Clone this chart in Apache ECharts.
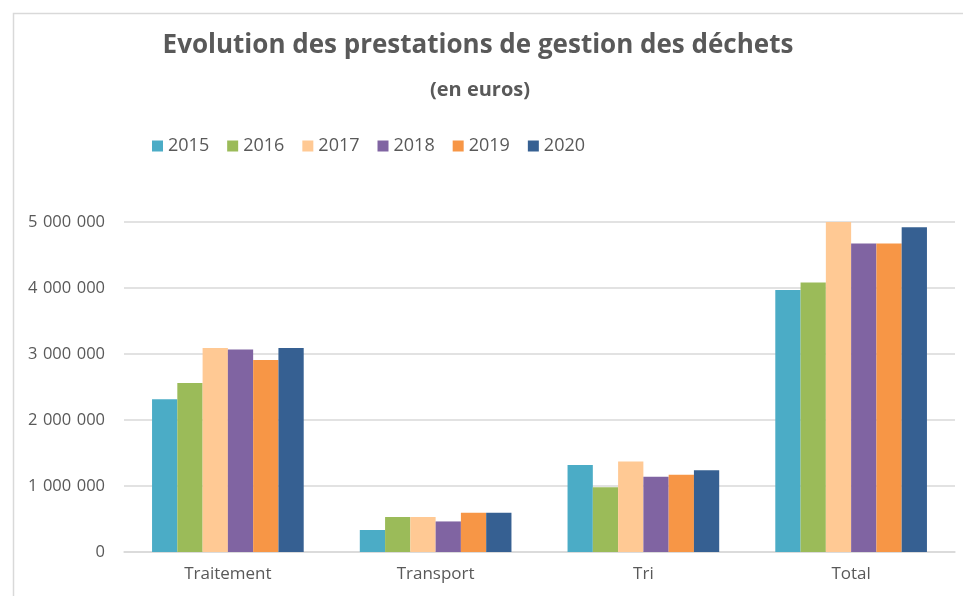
<!DOCTYPE html>
<html>
<head>
<meta charset="utf-8">
<script src="https://cdn.jsdelivr.net/npm/echarts@6/dist/echarts.min.js"></script>
<style>
  html, body { margin: 0; padding: 0; background: #fff; }
  #main { width: 963px; height: 596px; }
</style>
</head>
<body>
<div id="main"></div>
<script>
const categories = ['Traitement', 'Transport', 'Tri', 'Total'];
const years = ['2015', '2016', '2017', '2018', '2019', '2020'];
const colors = ['#4BACC6', '#9BBB59', '#FFC994', '#8064A2', '#F79646', '#366092'];

const v2015 = [2315000, 333000, 1320000, 3970000];
const v2016 = [2560000, 530000, 980000, 4085000];
const v2017 = [3090000, 530000, 1370000, 5000000];
const v2018 = [3070000, 463000, 1140000, 4675000];
const v2019 = [2910000, 595000, 1170000, 4675000];
const v2020 = [3090000, 595000, 1240000, 4920000];
const values = [v2015, v2016, v2017, v2018, v2019, v2020];

const txt = '#595959';
const font = 'Open Sans';
// thousands separated by a thin-ish space, like the original
const fmt = v => String(v).replace(/\B(?=(\d{3})+(?!\d))/g, '\u2004');

const myChart = echarts.init(document.getElementById('main'));
const option = {
  animation: false,
  backgroundColor: '#fff',
  color: colors,
  title: [
    {
      text: 'Evolution des prestations de gestion des déchets',
      left: 473, top: 28, textAlign: 'center',
      textStyle: { fontFamily: font, fontWeight: 'bold', fontSize: 26, color: txt }
    },
    {
      text: '(en euros)',
      left: 475, top: 75, textAlign: 'center',
      textStyle: { fontFamily: font, fontWeight: 'bold', fontSize: 20, color: txt }
    }
  ],
  legend: {
    left: 147, top: 132,
    itemWidth: 11, itemHeight: 11, itemGap: 18,
    icon: 'rect',
    textStyle: { fontFamily: font, fontSize: 18, color: txt },
    data: years
  },
  graphic: [{
    type: 'rect', silent: true, z: -1,
    shape: { x: 13.5, y: 13.5, width: 1000, height: 1000 },
    style: { fill: 'none', stroke: '#D9D9D9', lineWidth: 1.5 }
  }],
  grid: { left: 124, right: 8, top: 222, bottom: 44 },
  xAxis: {
    type: 'category',
    data: categories,
    axisLine: { lineStyle: { color: '#D9D9D9', width: 1.5 } },
    axisTick: { show: false },
    axisLabel: { fontFamily: font, fontSize: 17, color: txt, margin: 14 }
  },
  yAxis: {
    type: 'value',
    min: 0, max: 5000000, interval: 1000000,
    axisLine: { show: false },
    axisTick: { show: false },
    splitLine: { lineStyle: { color: '#D9D9D9', width: 1.5 } },
    axisLabel: { fontFamily: font, fontSize: 16.5, color: txt, margin: 19, formatter: fmt }
  },
  series: years.map((y, i) => ({
    name: y,
    type: 'bar',
    data: values[i],
    barGap: '0%',
    barCategoryGap: '27%',
    itemStyle: { color: colors[i] }
  }))
};
myChart.setOption(option);
window.onresize = function () { myChart.resize(); };
</script>
</body>
</html>
